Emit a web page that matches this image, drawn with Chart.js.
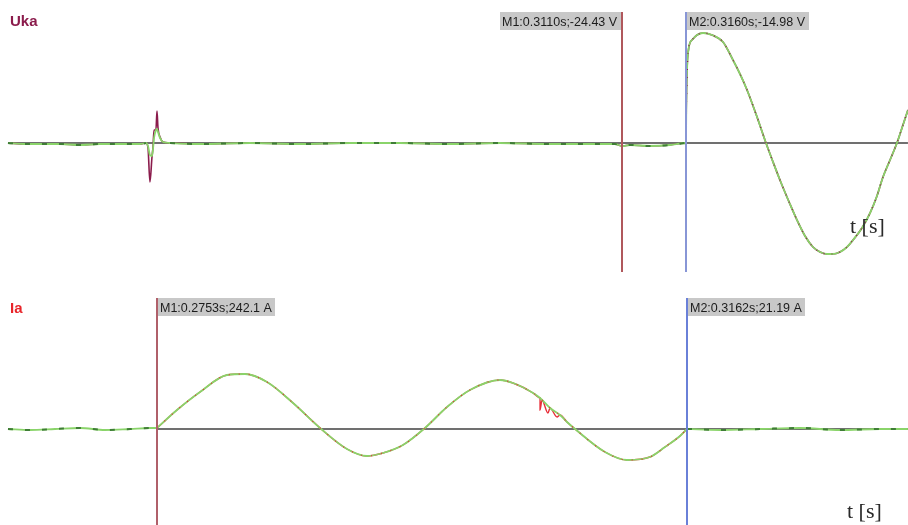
<!DOCTYPE html>
<html>
<head>
<meta charset="utf-8">
<script src="https://cdn.jsdelivr.net/npm/chart.js@4/dist/chart.umd.min.js"></script>
<style>
  html, body { margin: 0; padding: 0; background: #fff; }
  #wrap { position: relative; width: 908px; height: 525px; overflow: hidden; background: #fff; }
  canvas { position: absolute; left: 0; }
  #cu { top: 0; }
  #ci { top: 280px; }
</style>
</head>
<body>
<div id="wrap">
  <canvas id="cu" width="908" height="280"></canvas>
  <canvas id="ci" width="908" height="245"></canvas>
</div>
<script>
// ---- Uka: capacitor voltage, time in ms, value in V ----
const ukaT = [263.03,264.36,265.53,267.09,268.66,270.22,271.78,273.34,273.81,273.97,274.12,274.28,274.36,274.44,274.59,274.67,274.75,274.91,275.14,275.69,278.03,281.94,285.84,289.75,293.66,297.56,301.47,305.38,309.28,310.45,311.00,311.62,313.16,314.75,315.92,316.00,316.02,316.16,316.47,316.86,317.33,318.03,318.89,319.67,320.22,320.77,321.55,322.25,322.80,323.34,324.12,324.67,325.30,325.92,326.47,327.02,327.48,328.03,328.58,329.05,329.75,330.38,330.92,331.39,331.94,332.48,332.95,333.34];
// raw channel
const ukaRaw = [0,-8,-8,-8,-16,-8,-8,-8,0,-40,-312,-112,-32,104,104,256,120,48,8,0,-8,0,-8,0,0,-8,0,-8,-8,-8,-24.43,-16,-24,-16,0,-14.98,264,720,824,864,880,864,808,664,552,424,208,0,-152,-296,-488,-616,-744,-832,-872,-888,-888,-872,-832,-776,-680,-560,-424,-272,-136,0,144,264];
// filtered channel
const ukaFilt = [0,-8,-8,-8,-16,-8,-8,-8,0,-24,-96,-104,-48,40,104,112,88,40,8,0,-8,0,-8,0,0,-8,0,-8,-8,-8,-24.43,-16,-24,-16,0,-14.98,264,720,824,864,880,864,808,664,552,424,208,0,-152,-296,-488,-616,-744,-832,-872,-888,-888,-872,-832,-776,-680,-560,-424,-272,-136,0,144,264];
const ukaMarkT = [311.0, 316.0];
const ukaMarkV = [-24.43, -14.98];
const ukaAxisSpan = [263.03, 333.34];

// ---- Ia: arc current, time in ms, value in A ----
const iaT = [263.80,265.50,267.43,269.36,271.29,273.22,274.76,275.30,276.84,278.62,280.70,282.09,283.79,285.80,287.88,289.96,291.51,292.74,294.28,295.98,297.68,299.45,301.77,302.77,304.32,304.86,305.63,306.40,306.94,307.56,309.87,311.57,313.34,314.50,315.66,316.20,318.75,321.83,324.92,328.01,331.09,333.26];
const iaA = [0,-240,0,240,-240,0,240,242.1,4560,8880,12960,13200,11280,6240,240,-4800,-6480,-5760,-3840,240,5280,9360,11760,11040,8640,7440,5040,3360,1680,0,-5520,-7440,-6720,-4320,-1680,21.19,-240,0,240,-240,0,0];
// raw channel excursions on the falling slope
const iaSpikeT = [304.70,304.86,305.01,305.47,305.63,306.17,306.40];
const iaSpikeA = [7680,4560,6960,3840,5040,2880,3360];
const iaMarkT = [275.3, 316.2];
const iaMarkV = [242.1, 21.19];
const iaAxisSpan = [275.30, 333.26];

const GREEN = '#8ad46a';
const DARKGREEN = '#3f7d36';
const GREY = '#707070';

function pts(ts, vs) { return ts.map((t, i) => ({ x: t, y: vs[i] })); }
function within(points, a, b) { return points.filter(p => p.x >= a && p.x <= b); }

function flatSegments(points, keep) {
  const out = [];
  let prevKept = false;
  points.forEach(p => {
    const k = keep(p.x);
    if (k) { out.push(p); }
    else if (prevKept) { out.push({ x: p.x, y: null }); }
    prevKept = k;
  });
  return out;
}

// smooth trace through the samples (monotone keeps the steps clean)
function trace(data, color, width, extra) {
  return Object.assign({
    data, borderColor: color, borderWidth: width, pointRadius: 0,
    cubicInterpolationMode: 'monotone', fill: false, spanGaps: false
  }, extra || {});
}

function straight(data, color, width) {
  return { data, borderColor: color, borderWidth: width, pointRadius: 0, tension: 0, fill: false };
}

function overlayPlugin(cfg) {
  return {
    id: 'overlay_' + cfg.name,
    afterDatasetsDraw(chart) {
      const ctx = chart.ctx;
      const xs = chart.scales.x;
      ctx.save();
      // cursor lines
      cfg.markT.forEach((t, i) => {
        const px = Math.round(xs.getPixelForValue(t));
        ctx.strokeStyle = cfg.markColors[i];
        ctx.lineWidth = 2;
        ctx.beginPath();
        ctx.moveTo(px, cfg.markTop);
        ctx.lineTo(px, cfg.markBottom);
        ctx.stroke();
      });
      // cursor readouts
      ctx.font = '12.5px "Liberation Sans", Arial, sans-serif';
      ctx.textBaseline = 'alphabetic';
      cfg.markT.forEach((t, i) => {
        const txt = 'M' + (i + 1) + ':' + (t / 1000).toFixed(4) + 's;' + cfg.markV[i] + ' ' + cfg.unit;
        const w = Math.ceil(ctx.measureText(txt).width) + 5;
        const px = Math.round(xs.getPixelForValue(t));
        let bx = px + 1;
        const next = cfg.markT[i + 1];
        if (next !== undefined && bx + w > xs.getPixelForValue(next)) bx = px - 1 - w;
        ctx.fillStyle = '#c8c8c8';
        ctx.fillRect(bx, cfg.markTop, w, 18);
        ctx.fillStyle = '#1c1c1c';
        ctx.fillText(txt, bx + 2, cfg.markTop + 14);
      });
      // channel name
      ctx.font = 'bold 15px "Liberation Sans", Arial, sans-serif';
      ctx.fillStyle = cfg.nameColor;
      ctx.fillText(cfg.name, 10, cfg.nameBase);
      // time caption
      ctx.font = '22px "Liberation Serif", "Times New Roman", serif';
      ctx.fillStyle = '#2a2a2a';
      ctx.fillText('t [s]', cfg.capX, cfg.capBase);
      ctx.restore();
    }
  };
}

function makeChart(id, datasets, xr, yr, plugin) {
  return new Chart(document.getElementById(id), {
    type: 'line',
    data: { datasets },
    options: {
      responsive: false,
      animation: false,
      devicePixelRatio: 1,
      layout: { padding: 0 },
      events: [],
      plugins: { legend: { display: false }, tooltip: { enabled: false }, title: { display: false } },
      scales: {
        x: { type: 'linear', min: xr[0], max: xr[1], display: false },
        y: { type: 'linear', min: yr[0], max: yr[1], display: false }
      }
    },
    plugins: [plugin]
  });
}

// ---- upper panel: Uka ----
const ukaRawPts = pts(ukaT, ukaRaw);
const ukaFiltPts = pts(ukaT, ukaFilt);
const ukaFlat = flatSegments(ukaFiltPts, t => t < 315.95 && (t < 273.9 || t > 275.6));
makeChart('cu', [
  trace(within(ukaRawPts, 316.02, 340), '#8b1c4c', 1.2, { borderDash: [1, 7] }),
  trace(ukaFlat, DARKGREEN, 2, { borderDash: [5, 12] }),
  trace(within(ukaFiltPts, 0, 316.0), GREEN, 1.8),
  trace(within(ukaFiltPts, 316.0, 340), GREEN, 1.8),
  trace(within(ukaRawPts, 0, 316.0), '#8b1c4c', 1.6),
  trace(within(ukaRawPts, 316.0, 340), '#8b1c4c', 1.6),
  straight(ukaAxisSpan.map(t => ({ x: t, y: 0 })), GREY, 2)
], [262.40625, 333.34375], [-1096, 1144], overlayPlugin({
  name: 'Uka', nameColor: '#8b1c4c', nameBase: 26, unit: 'V',
  markT: ukaMarkT, markV: ukaMarkV, markColors: ['#b0585c', '#8896d6'],
  markTop: 12, markBottom: 272, capX: 850, capBase: 233
}));

// ---- lower panel: Ia ----
const iaPts = pts(iaT, iaA);
const iaRawPts = iaPts.concat(pts(iaSpikeT, iaSpikeA)).sort((a, b) => a.x - b.x);
const iaFlat = flatSegments(iaPts, t => t < 275.31 || t > 316.19);
const arcStart = iaMarkT[0], arcEnd = iaMarkT[1];
makeChart('ci', [
  trace(within(iaPts, arcStart, arcEnd), '#e0303a', 1.2, { borderDash: [1, 9] }),
  trace(iaFlat, DARKGREEN, 2, { borderDash: [5, 12] }),
  trace(within(iaPts, 0, arcStart), GREEN, 1.8),
  trace(within(iaPts, arcStart, arcEnd), GREEN, 1.8),
  trace(within(iaPts, arcEnd, 340), GREEN, 1.8),
  trace(within(iaRawPts, arcStart, arcEnd), '#e8303a', 1.4),
  straight(iaAxisSpan.map(t => ({ x: t, y: 0 })), GREY, 2)
], [263.1843, 333.2545], [-23040, 35760], overlayPlugin({
  name: 'Ia', nameColor: '#e8252a', nameBase: 33, unit: 'A',
  markT: iaMarkT, markV: iaMarkV, markColors: ['#b0606a', '#6a80d8'],
  markTop: 18, markBottom: 245, capX: 847, capBase: 238
}));
</script>
</body>
</html>
